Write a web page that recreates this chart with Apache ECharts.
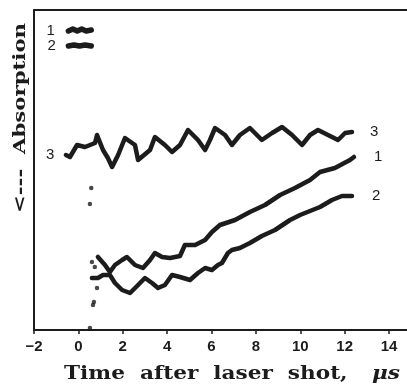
<!DOCTYPE html>
<html>
<head>
<meta charset="utf-8">
<script src="https://cdn.jsdelivr.net/npm/echarts@6/dist/echarts.min.js"></script>
<style>
  html, body { margin: 0; padding: 0; background: #fff; }
  #chart { width: 407px; height: 386px; }
</style>
</head>
<body>
<div id="chart"></div>
<script>
// Time axis (µs) tick positions
const tickValues = [-2, 0, 2, 4, 6, 8, 10, 12, 14];

// Absorption traces, [time µs, absorption (arb. units)]
const trace1Early = [[-0.45, 29.9], [-0.25, 30.1], [-0.05, 29.9], [0.15, 30.1], [0.35, 29.9], [0.58, 30.0]];
const trace2Early = [[-0.45, 28.4], [-0.2, 28.5], [0.05, 28.4], [0.3, 28.5], [0.58, 28.4]];

const trace3 = [
  [-0.56, 17.5], [-0.38, 17.3], [-0.06, 18.5], [0.30, 18.3], [0.75, 18.7], [0.84, 19.5],
  [1.11, 18.0], [1.33, 17.2], [1.52, 16.3], [1.79, 17.5], [2.10, 19.2], [2.55, 18.5],
  [2.69, 17.0], [3.23, 18.0], [3.45, 19.3], [3.90, 18.5], [4.22, 17.8], [4.58, 18.5],
  [4.94, 20.0], [5.39, 19.0], [5.71, 18.0], [5.93, 19.0], [6.16, 20.2], [6.61, 19.5],
  [6.92, 18.5], [7.28, 19.5], [7.73, 20.2], [8.27, 19.0], [8.73, 19.7], [9.18, 20.3],
  [9.63, 19.5], [10.08, 18.5], [10.44, 19.5], [10.80, 20.0], [11.34, 19.4], [11.70, 19.0],
  [12.02, 19.7], [12.33, 19.8]
];

const trace1 = [
  [0.88, 7.3], [1.20, 6.5], [1.42, 5.8], [1.65, 6.5], [1.97, 7.0], [2.19, 7.3],
  [2.55, 6.5], [2.91, 6.2], [3.23, 7.0], [3.45, 7.7], [3.77, 7.3], [4.13, 7.2],
  [4.58, 7.4], [4.80, 8.5], [5.26, 8.5], [5.71, 9.0], [6.02, 9.8], [6.38, 10.5],
  [7.06, 11.0], [7.73, 11.8], [8.41, 12.5], [9.09, 13.5], [9.76, 14.2], [10.44, 15.0],
  [10.89, 15.8], [11.56, 16.2], [12.24, 17.0], [12.42, 17.3]
];

const trace2 = [
  [0.61, 5.2], [0.88, 5.2], [1.11, 5.5], [1.42, 5.5], [1.65, 4.7], [1.97, 4.0],
  [2.33, 3.7], [2.69, 4.5], [3.00, 5.2], [3.32, 4.7], [3.59, 4.2], [3.90, 4.5],
  [4.22, 5.5], [4.58, 5.3], [5.03, 5.0], [5.39, 5.7], [5.71, 6.2], [6.02, 6.0],
  [6.29, 6.5], [6.47, 6.7], [6.74, 7.7], [6.92, 8.0], [7.28, 8.2], [7.73, 8.7],
  [8.27, 9.4], [8.86, 10.0], [9.54, 11.0], [9.99, 11.5], [10.89, 12.3], [11.43, 13.0],
  [11.88, 13.4], [12.33, 13.4]
];

// isolated points recorded during the jump right after the flash
const transient = [[0.58, 14.2], [0.52, 12.6], [0.61, 6.8], [0.74, 6.3], [0.84, 4.2], [0.70, 2.8], [0.66, 2.5], [0.52, 0.2]];

const INK = '#1c1c1c';
const labelFont = { color: INK, fontSize: 15, fontFamily: 'Liberation Sans' };

function traceSeries(name, data, opts) {
  const items = data.map((d, i) => {
    if (i === 0 && opts.startLabel) {
      return { value: d, label: Object.assign({ show: true, position: 'left', formatter: name }, labelFont, opts.startLabel) };
    }
    return { value: d };
  });
  return {
    type: 'line',
    name: name,
    data: items,
    symbol: 'circle',
    symbolSize: 1,
    showAllSymbol: true,
    itemStyle: { color: INK },
    lineStyle: { color: INK, width: opts.width || 4.5, cap: 'round', join: 'round' },
    endLabel: opts.endLabel ? Object.assign({ show: true, formatter: name }, labelFont, opts.endLabel) : { show: false },
    z: 3
  };
}

const chart = echarts.init(document.getElementById('chart'), null, { renderer: 'canvas' });
chart.setOption({
  animation: false,
  backgroundColor: '#fff',
  grid: { left: 34, right: 0, top: 10, bottom: 56 },
  xAxis: [{
    type: 'value', min: -2, max: 14.81, position: 'bottom',
    axisLine: { show: true, onZero: false, lineStyle: { color: INK, width: 2 } },
    axisTick: { show: true, length: 4, inside: false, customValues: tickValues, lineStyle: { color: INK, width: 1.5 } },
    axisLabel: {
      customValues: tickValues, margin: 9,
      color: INK, fontSize: 15, fontWeight: 'bold', fontFamily: 'Liberation Sans',
      formatter: v => String(v).replace('-', '\u2212')
    },
    splitLine: { show: false }
  }, {
    type: 'value', min: -2, max: 14.81, position: 'top',
    axisLine: { show: true, onZero: false, lineStyle: { color: INK, width: 2 } },
    axisTick: { show: false }, axisLabel: { show: false }, splitLine: { show: false }
  }],
  yAxis: {
    type: 'value', min: 0, max: 32, position: 'left',
    axisLine: { show: true, onZero: false, lineStyle: { color: INK, width: 2 } },
    axisTick: { show: false }, axisLabel: { show: false }, splitLine: { show: false }
  },
  series: [
    traceSeries('1', trace1Early, { width: 5.5, startLabel: { distance: 13 } }),
    traceSeries('2', trace2Early, { width: 5.5, startLabel: { distance: 12 } }),
    traceSeries('3', trace3, { startLabel: { distance: 11 }, endLabel: { distance: 18 } }),
    traceSeries('1', trace1, { endLabel: { distance: 20 } }),
    traceSeries('2', trace2, { endLabel: { distance: 20 } }),
    {
      type: 'scatter', data: transient, symbolSize: 4.5,
      itemStyle: { color: INK }, z: 3
    }
  ],
  graphic: [
    {
      type: 'text', x: 21, y: 118, rotation: Math.PI / 2, scaleX: 1.25,
      style: {
        text: '<---  Absorption', fill: INK,
        font: 'bold 17px "DejaVu Serif"', align: 'center', verticalAlign: 'middle'
      }
    },
    {
      type: 'text', x: 64, y: 374, scaleX: 1.2,
      style: {
        text: 'Time  after  laser  shot,', fill: INK,
        font: 'bold 18px "DejaVu Serif"', align: 'left', verticalAlign: 'middle'
      }
    },
    {
      type: 'text', x: 372, y: 374, scaleX: 1.2,
      style: {
        text: '\u03bcs', fill: INK,
        font: 'italic bold 18px "DejaVu Serif"', align: 'left', verticalAlign: 'middle'
      }
    }
  ]
});
</script>
</body>
</html>
